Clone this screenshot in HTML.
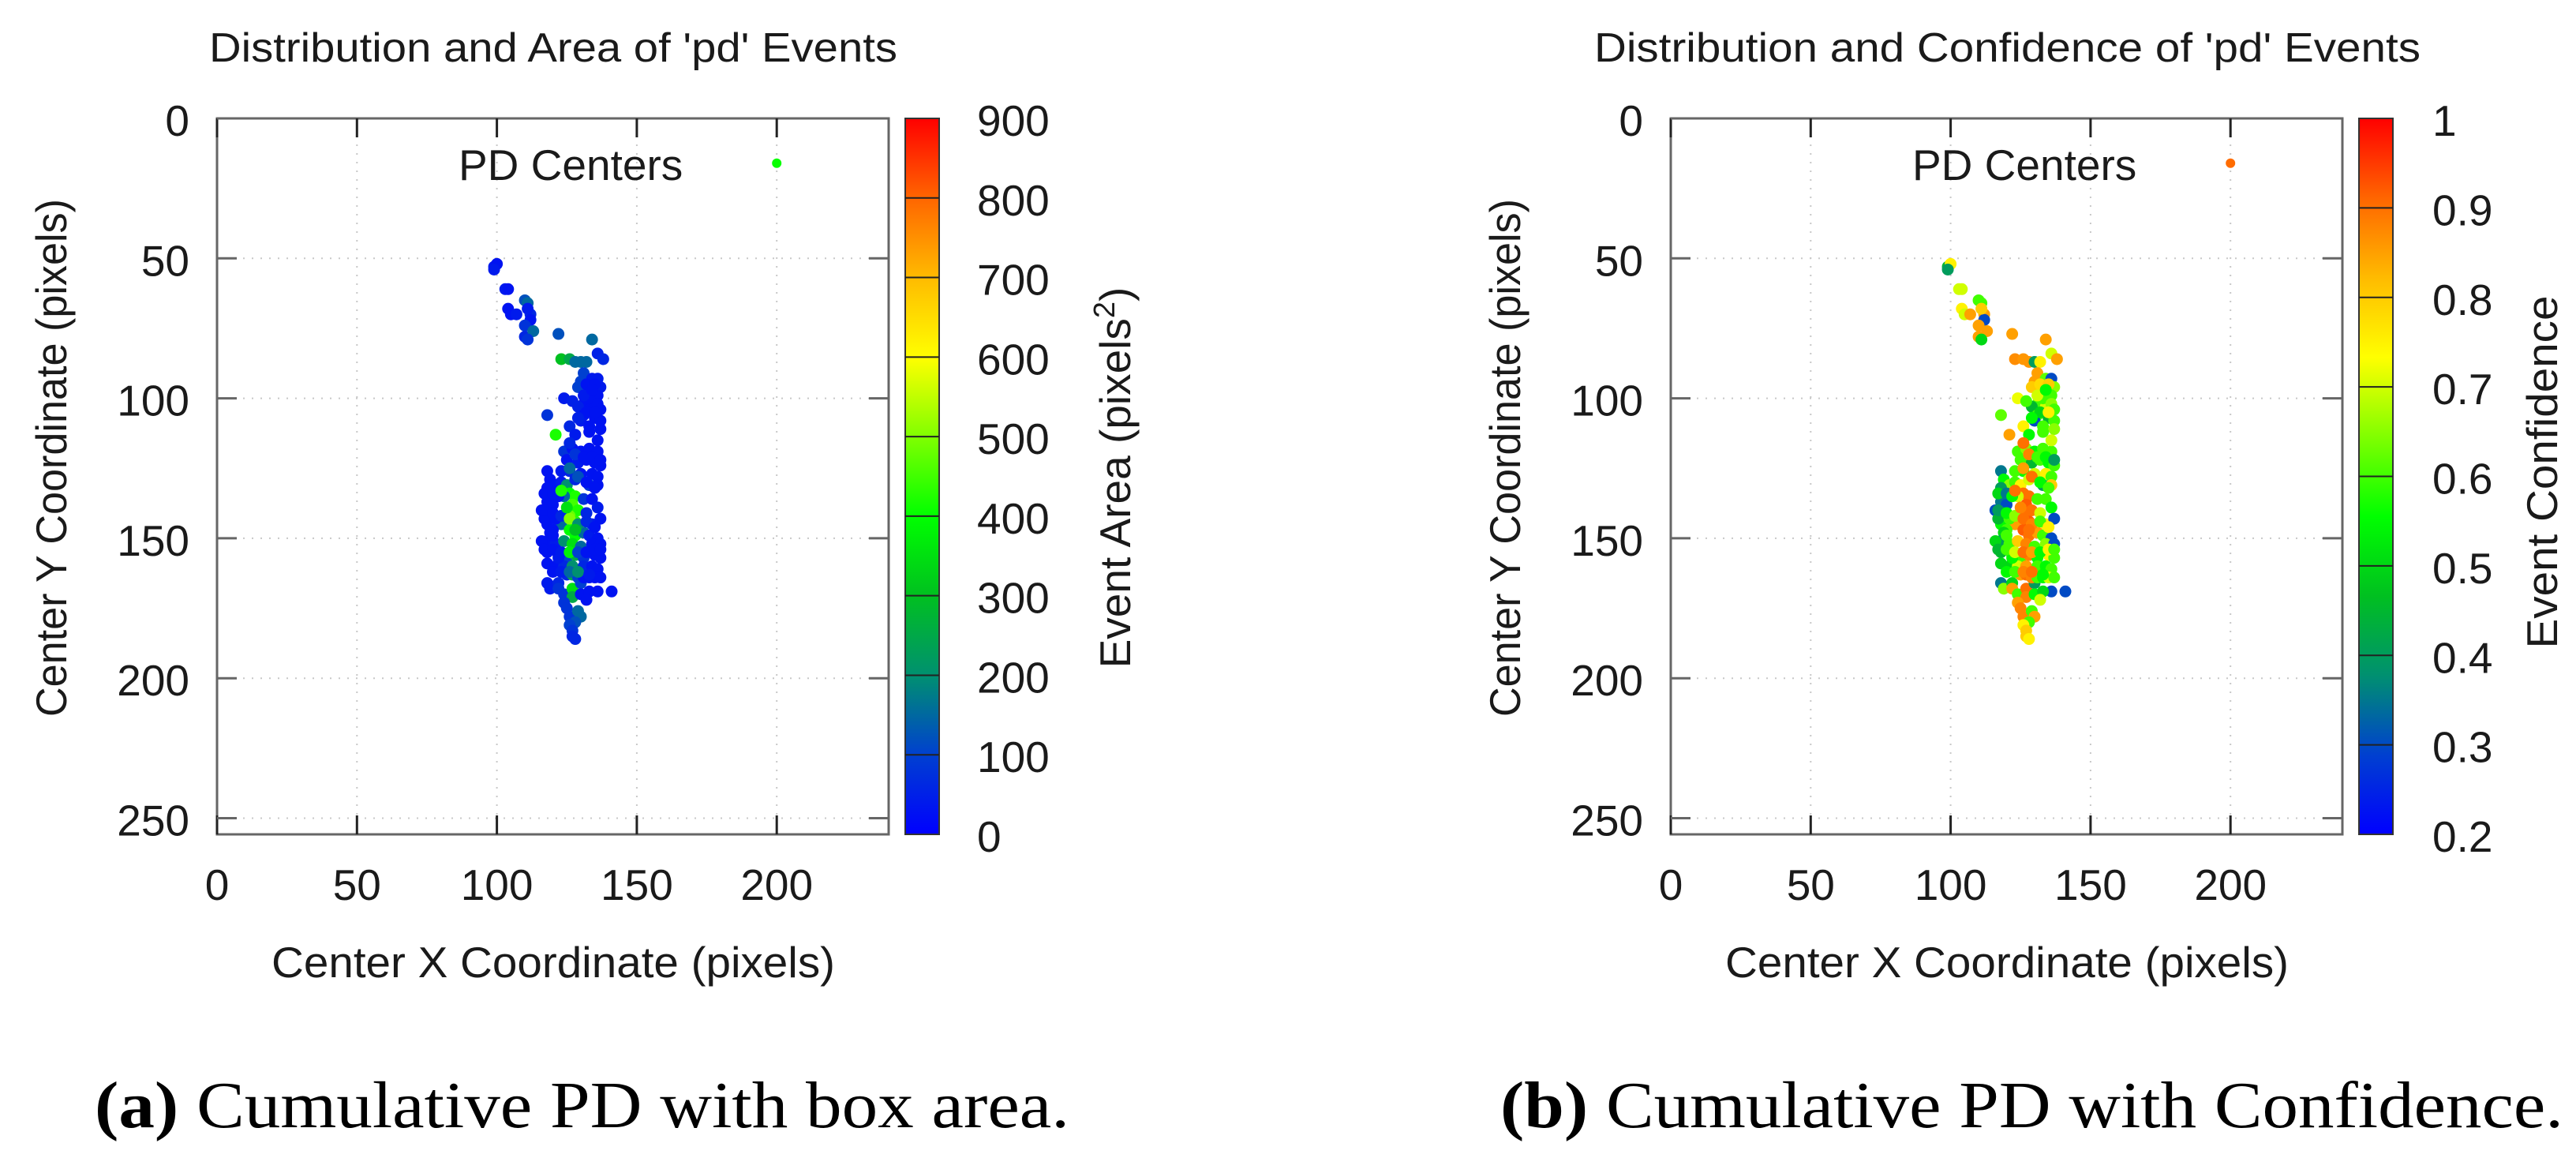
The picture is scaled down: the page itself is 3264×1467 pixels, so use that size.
<!DOCTYPE html>
<html><head><meta charset="utf-8">
<style>
html,body{margin:0;padding:0;background:#fff;}
svg{display:block;}
text{font-family:"Liberation Sans",sans-serif;fill:#1a1a1a;}
.cap{font-family:"Liberation Serif",serif;fill:#000;}
</style></head>
<body>
<svg id="fig" width="3264" height="1467" viewBox="0 0 3264 1467" xmlns="http://www.w3.org/2000/svg">
<defs>
<linearGradient id="cmap" x1="0" y1="1" x2="0" y2="0">
<stop offset="0" stop-color="#0000ff"/><stop offset="0.111" stop-color="#0040d0"/>
<stop offset="0.222" stop-color="#009070"/><stop offset="0.333" stop-color="#00c020"/>
<stop offset="0.444" stop-color="#00ff00"/><stop offset="0.555" stop-color="#80ff00"/>
<stop offset="0.666" stop-color="#ffff00"/><stop offset="0.777" stop-color="#ffbb00"/>
<stop offset="0.888" stop-color="#ff6600"/><stop offset="1" stop-color="#ff0000"/>
</linearGradient>
</defs>
<g id="panelA"></g>
<g id="panelB"></g>
<text x="265" y="78" font-size="52" textLength="872" lengthAdjust="spacingAndGlyphs">Distribution and Area of 'pd' Events</text>
<text x="2020" y="78" font-size="52" textLength="1047" lengthAdjust="spacingAndGlyphs">Distribution and Confidence of 'pd' Events</text>
<text x="344" y="1238" font-size="55" textLength="714" lengthAdjust="spacingAndGlyphs">Center X Coordinate (pixels)</text>
<text x="2186" y="1238" font-size="55" textLength="714" lengthAdjust="spacingAndGlyphs">Center X Coordinate (pixels)</text>
<text transform="translate(84,580) rotate(-90)" text-anchor="middle" font-size="55" textLength="656" lengthAdjust="spacingAndGlyphs">Center Y Coordinate (pixels)</text>
<text transform="translate(1926,580) rotate(-90)" text-anchor="middle" font-size="55" textLength="656" lengthAdjust="spacingAndGlyphs">Center Y Coordinate (pixels)</text>
<text transform="translate(1432,605) rotate(-90)" text-anchor="middle" font-size="55">Event Area (pixels<tspan dy="-20" font-size="38">2</tspan><tspan dy="20">)</tspan></text>
<text transform="translate(3240,598) rotate(-90)" text-anchor="middle" font-size="55" textLength="447" lengthAdjust="spacingAndGlyphs">Event Confidence</text>
<text class="cap" x="120" y="1428" font-size="84" textLength="1235" lengthAdjust="spacingAndGlyphs"><tspan font-weight="bold">(a)</tspan> Cumulative PD with box area.</text>
<text class="cap" x="1901" y="1428" font-size="84" textLength="1347" lengthAdjust="spacingAndGlyphs"><tspan font-weight="bold">(b)</tspan> Cumulative PD with Confidence.</text>
</svg>
<script>
const xs=[99,100,99,103,104,104,105,107,110,111,112,112,111,110,110,113,111,122,134,136,138,123,126,128,130,132,
131,130,134,136,137,124,129,133,136,131,134,129,127,131,135,137,130,133,126,128,137,118,121,
124,127,130,133,136,125,129,132,135,137,126,130,134,136,
118,119,121,123,118,125,128,133,136,
126,128,124,118,120,116,119,127,129,126,128,131,134,136,132,134,137,123,118,120,119,126,128,131,133,136,
118,121,124,127,130,134,137,118,122,125,128,131,135,137,118,121,124,127,131,134,136,
118,119,122,122,124,127,127,130,130,136,133,141,132,124,125,126,129,130,128,126,127,127,128,
132,135,133,136,131,134,137,132,135,129,133,136,126,128,131,134,137,123,126,129,132,135,
117,120,122,117,121,116,120,122,125,127,129,131,133,135,137,
117,120,123,126,129,132,135,117,120,123,126,129,132,135,137,
120,123,126,129,133,123,125,128];
const ys=[53,52,54,61,61,68,70,70,65,66,70,72,68,74,78,76,79,77,79,84,86,86,86,87,87,87,
91,94,93,93,96,100,96,97,99,102,103,103,101,106,107,108,108,110,110,113,111,106,113,
119,118,119,118,119,122,123,122,123,124,126,127,127,128,
126,129,131,130,132,131,129,131,131,
134,135,135,137,138,140,141,138,140,142,144,136,136,139,141,145,143,145,145,147,148,147,149,148,149,150,
151,152,151,152,153,152,152,155,156,157,156,157,156,157,159,160,160,160,160,160,161,
166,168,166,168,170,168,171,166,170,169,169,169,172,173,175,178,176,178,180,181,183,185,186,
95,95,100,102,99,97,104,105,105,107,112,115,116,120,121,121,122,126,125,128,130,132,
134,134,135,143,143,151,149,157,163,163,164,164,164,164,164,
140,141,142,143,145,144,146,154,154,155,155,155,155,154,154,
162,162,162,162,163,133,139,147];
const areaVals=[40,30,40,40,30,30,30,40,120,150,60,30,40,80,60,150,80,120,150,50,60,300,250,150,150,150,
100,100,40,40,40,40,100,30,30,30,30,50,50,30,30,30,40,30,60,40,30,80,420,
80,30,30,30,30,30,40,30,30,30,60,30,30,30,
30,30,30,40,30,200,60,80,30,
400,420,150,30,30,30,30,450,420,480,430,80,30,40,60,40,30,150,30,30,30,400,400,150,40,30,
30,40,200,350,150,30,30,30,40,100,250,80,30,30,30,30,60,200,60,30,30,
40,40,60,80,80,350,250,100,30,30,30,30,30,80,80,80,150,150,120,100,80,60,60,
30,30,30,30,40,30,30,30,30,50,30,30,60,80,30,30,30,40,150,120,30,30,
30,30,30,30,30,30,30,40,60,250,100,30,30,30,30,
30,30,60,500,200,60,30,30,30,40,380,100,30,30,30,
30,40,150,200,40,420,350,300];
const confVals=[0.45,0.75,0.4,0.7,0.7,0.75,0.7,0.85,0.6,0.6,0.85,0.3,0.8,0.85,0.85,0.85,0.5,0.85,0.85,0.7,0.85,0.87,0.86,0.86,0.4,0.75,
0.85,0.85,0.62,0.3,0.65,0.72,0.8,0.83,0.6,0.6,0.7,0.45,0.6,0.6,0.45,0.6,0.3,0.6,0.75,0.55,0.65,0.62,0.85,
0.6,0.65,0.55,0.6,0.6,0.6,0.45,0.6,0.55,0.6,0.55,0.7,0.75,0.6,
0.35,0.55,0.65,0.6,0.4,0.75,0.7,0.4,0.8,
0.9,0.9,0.7,0.35,0.3,0.3,0.4,0.92,0.9,0.9,0.92,0.6,0.6,0.55,0.7,0.75,0.3,0.85,0.55,0.6,0.5,0.92,0.9,0.85,0.6,0.3,
0.4,0.6,0.8,0.88,0.6,0.65,0.3,0.45,0.5,0.6,0.88,0.55,0.75,0.6,0.5,0.5,0.7,0.85,0.6,0.55,0.6,
0.35,0.65,0.5,0.85,0.6,0.9,0.88,0.4,0.55,0.3,0.5,0.3,0.7,0.85,0.88,0.88,0.6,0.85,0.6,0.75,0.8,0.8,0.75,
0.78,0.8,0.6,0.65,0.7,0.55,0.6,0.5,0.75,0.55,0.6,0.7,0.9,0.88,0.6,0.55,0.4,0.6,0.85,0.9,0.55,0.6,
0.5,0.35,0.55,0.45,0.6,0.5,0.6,0.55,0.85,0.9,0.88,0.6,0.55,0.7,0.6,
0.4,0.55,0.65,0.9,0.88,0.6,0.75,0.45,0.6,0.7,0.9,0.85,0.55,0.75,0.6,
0.55,0.6,0.88,0.9,0.55,0.9,0.88,0.9];
const xTicks=[0,50,100,150,200];
const yTicks=[0,50,100,150,200,250];
const areaTicks=[0,100,200,300,400,500,600,700,800,900];
const confTicks=[0.2,0.3,0.4,0.5,0.6,0.7,0.8,0.9,1];
const confLabels=["0.2","0.3","0.4","0.5","0.6","0.7","0.8","0.9","1"];
const legendPoint=[200,16];

const NS="http://www.w3.org/2000/svg";
const stops=[[0,0,0,255],[0.111,0,64,208],[0.222,0,144,112],[0.333,0,192,32],[0.444,0,255,0],[0.555,128,255,0],[0.666,255,255,0],[0.777,255,187,0],[0.888,255,102,0],[1,255,0,0]];
function cmap(t){t=Math.max(0,Math.min(1,t));for(let i=1;i<stops.length;i++){if(t<=stops[i][0]){const a=stops[i-1],b=stops[i],f=(t-a[0])/(b[0]-a[0]);return `rgb(${Math.round(a[1]+f*(b[1]-a[1]))},${Math.round(a[2]+f*(b[2]-a[2]))},${Math.round(a[3]+f*(b[3]-a[3]))})`;}}return "rgb(255,0,0)";}
function mk(tag,attrs,parent){const e=document.createElementNS(NS,tag);for(const k in attrs)e.setAttribute(k,attrs[k]);parent.appendChild(e);return e;}

function panel(g,dx,vals,vmin,vmax,cTicks,cLabels,cbLabelX){
  const L=275+dx,T=150,R=1126+dx,B=1057,k=177.3/50;
  const sx=v=>L+v*k, sy=v=>T+v*k;
  const cbL=1147+dx,cbR=1190+dx;
  const cy=v=>B-(v-vmin)/(vmax-vmin)*(B-T);
  xTicks.forEach(v=>{if(v===0)return;
    const l=mk('line',{x1:sx(v),y1:T,x2:sx(v),y2:B,stroke:'#c8c8c8','stroke-width':2,'stroke-dasharray':'2 9'},g);
    
    });
  yTicks.forEach(v=>{if(v===0)return;
    const l=mk('line',{x1:L,y1:sy(v),x2:R,y2:sy(v),stroke:'#c8c8c8','stroke-width':2,'stroke-dasharray':'2 9'},g);
    
    });
  for(let i=0;i<xs.length;i++){
    const c=mk('circle',{cx:sx(xs[i]),cy:sy(ys[i]),r:7.5,fill:cmap((vals[i]-vmin)/(vmax-vmin))},g);
    
    
  }
  const f=mk('rect',{x:L,y:T,width:R-L,height:B-T,fill:'none',stroke:'#666','stroke-width':3},g);
  
  
  xTicks.forEach(v=>{
    mk('line',{x1:sx(v),y1:B,x2:sx(v),y2:B-24,stroke:'#222','stroke-width':3},g);
    mk('line',{x1:sx(v),y1:T,x2:sx(v),y2:T+24,stroke:'#222','stroke-width':3},g);
    const t=mk('text',{x:sx(v),y:1140,'text-anchor':'middle','font-size':55},g);
    t.textContent=v;
    
    });
  yTicks.forEach(v=>{
    mk('line',{x1:L,y1:sy(v),x2:L+25,y2:sy(v),stroke:'#666','stroke-width':3},g);
    mk('line',{x1:R,y1:sy(v),x2:R-25,y2:sy(v),stroke:'#666','stroke-width':3},g);
    const t=mk('text',{x:240+dx,y:sy(v)+22,'text-anchor':'end','font-size':55},g);
    t.textContent=v;
    
    });
  const cb=mk('rect',{x:cbL,y:T,width:cbR-cbL,height:B-T,fill:'url(#cmap)',stroke:'#333','stroke-width':2},g);
  
  
  cTicks.forEach((v,i)=>{
    if(i>0&&i<cTicks.length-1) mk('line',{x1:cbL,y1:cy(v),x2:cbR,y2:cy(v),stroke:'#222','stroke-width':2},g);
    const t=mk('text',{x:cbLabelX,y:cy(v)+22,'font-size':55},g);
    t.textContent=cLabels[i];
    
    });
  const lt=mk('text',{x:581+dx,y:228,'font-size':55},g);
  lt.textContent='PD Centers';
  
  
  const lp=mk('circle',{cx:sx(legendPoint[0]),cy:sy(legendPoint[1]),r:6,fill:cmap(dx?0.88:0.45)},g);
  
  
}
panel(document.getElementById('panelA'),0,areaVals,0,900,areaTicks,areaTicks.map(String),1238);
panel(document.getElementById('panelB'),1842,confVals,0.2,1,confTicks,confLabels,3082);
</script>
</body></html>
